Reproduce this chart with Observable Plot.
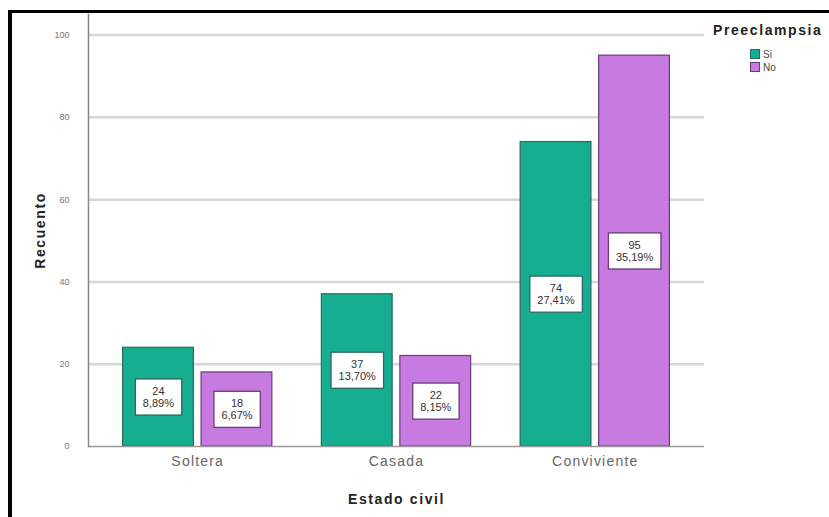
<!DOCTYPE html>
<html>
<head>
<meta charset="utf-8">
<script src="https://cdn.jsdelivr.net/npm/d3@7"></script>
<script src="https://cdn.jsdelivr.net/npm/@observablehq/plot@0.6"></script>
<style>
  body { margin: 0; background: #fff; font-family: "Liberation Sans", Arial, sans-serif; }
  #wrap { position: relative; width: 829px; height: 517px; overflow: hidden; background: #fff; }
  #chart { position: absolute; left: 0; top: 0; }
  #frame { position: absolute; left: 8px; top: 10px; width: 840px; height: 530px;
           border-top: 3px solid #000; border-left: 4px solid #000; pointer-events: none; }
  #legend { position: absolute; left: 713px; top: 21px; color: #444; }
  #legend .lt { font-weight: bold; font-size: 14px; letter-spacing: 1.6px; color: #222; line-height: 18px; }
  #legend .row { position: absolute; left: 37px; font-size: 10px; line-height: 11px; white-space: nowrap; }
  #legend .sw { display: inline-block; width: 10px; height: 10px; vertical-align: top; margin-right: 3px; box-sizing: border-box; }
  g[aria-label="x-axis tick label"] text { letter-spacing: 1.2px; }
</style>
</head>
<body>
<div id="wrap">
  <div id="chart"></div>
  <div id="frame"></div>
  <div id="legend"></div>
</div>
<script>
// ---- data ----
const categories = ["Soltera", "Casada", "Conviviente"];
const groups = ["Si", "No"];
const siCounts = [24, 37, 74];
const noCounts = [18, 22, 95];
const siPercents = ["8,89%", "13,70%", "27,41%"];
const noPercents = ["6,67%", "8,15%", "35,19%"];
const yTicks = [0, 20, 40, 60, 80, 100];
const xTitle = "Estado civil";
const yTitle = "Recuento";
const legendTitle = "Preeclampsia";

// ---- styles ----
const fills = ["#17ad90", "#c77ae0"];
const edges = ["#2b6a5e", "#6a3c7a"];

const siData = categories.map((c, i) => ({cat: c, grp: groups[0], n: siCounts[i], pct: siPercents[i]}));
const noData = categories.map((c, i) => ({cat: c, grp: groups[1], n: noCounts[i], pct: noPercents[i]}));

const chart = Plot.plot({
  width: 829,
  height: 517,
  marginLeft: 88,
  marginRight: 125,
  marginTop: 14,
  marginBottom: 71,
  style: {fontFamily: "'Liberation Sans', Arial, sans-serif", background: "transparent", overflow: "visible"},
  x: {domain: categories, paddingInner: 0.249, paddingOuter: 0.174, align: 0.5, round: false, label: null},
  y: {domain: [0, 105], label: null},
  color: {domain: groups, range: fills},
  marks: [
    Plot.ruleY(yTicks.filter(t => t > 0), {stroke: "#d6d6d6", strokeWidth: 2.5}),
    Plot.axisY({ticks: yTicks, tickSize: 0, tickPadding: 19, fontSize: 9, color: "#777", label: null}),
    Plot.axisX({tickSize: 0, tickPadding: 10, fontSize: 14, color: "#666", label: null}),
    Plot.barY(siData, {x: "cat", y: "n", fill: "grp", stroke: edges[0], strokeWidth: 1.2, insetRight: 78.5}),
    Plot.barY(noData, {x: "cat", y: "n", fill: "grp", stroke: edges[1], strokeWidth: 1.2, insetLeft: 78.5}),
    Plot.ruleY([0], {stroke: "#999", strokeWidth: 1.5}),
    Plot.frame({anchor: "left", stroke: "#888", strokeWidth: 1.5}),
    Plot.text(siData, {x: "cat", y: d => d.n / 2, text: d => d.n + "\n" + d.pct, dx: -39.3,
      fontSize: 11, lineHeight: 1.1, fill: "#333"}),
    Plot.text(noData, {x: "cat", y: d => d.n / 2, text: d => d.n + "\n" + d.pct, dx: 39.3,
      fontSize: 11, lineHeight: 1.1, fill: "#333"}),
    Plot.text([yTitle], {text: d => d, frameAnchor: "left", textAnchor: "middle", rotate: -90, dx: -48,
      fontSize: 14, fontWeight: "bold", fill: "#222"}),
    Plot.text([xTitle], {text: d => d, frameAnchor: "bottom", textAnchor: "middle", dy: 57,
      fontSize: 14, fontWeight: "bold", fill: "#222"})
  ]
});
document.getElementById("chart").appendChild(chart);

const textGroups = d3.select(chart).selectAll('g[aria-label="text"]').nodes();
// axis titles: widen letter spacing
textGroups.slice(2).forEach(g => d3.select(g).selectAll("text").style("letter-spacing", "1.6px"));

// white label boxes behind value labels
textGroups.slice(0, 2).forEach((g, k) => {
  d3.select(g).selectAll("text").each(function() {
    const bb = this.getBBox();
    const r = document.createElementNS("http://www.w3.org/2000/svg", "rect");
    r.setAttribute("x", bb.x - 7.5);
    r.setAttribute("y", bb.y - 6);
    r.setAttribute("width", bb.width + 15);
    r.setAttribute("height", bb.height + 12);
    r.setAttribute("fill", "#fff");
    r.setAttribute("stroke", edges[k]);
    r.setAttribute("stroke-width", 1.3);
    const t = this.getAttribute("transform");
    if (t) r.setAttribute("transform", t);
    this.parentNode.insertBefore(r, this);
  });
});

// legend
const legend = d3.select("#legend");
legend.append("div").attr("class", "lt").text(legendTitle);
groups.forEach((g, i) => {
  const row = legend.append("div").attr("class", "row").style("top", (28 + i * 13) + "px");
  row.append("span").attr("class", "sw").style("background", fills[i]).style("border", "1px solid " + edges[i]);
  row.append("span").text(g);
});
</script>
</body>
</html>
